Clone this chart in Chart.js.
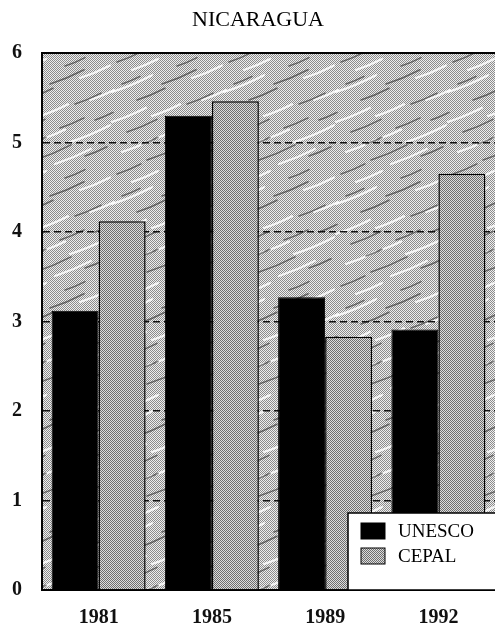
<!DOCTYPE html>
<html>
<head>
<meta charset="utf-8">
<script src="https://cdn.jsdelivr.net/npm/chart.js@4/dist/chart.umd.min.js"></script>
<style>
  html, body { margin: 0; padding: 0; background: #fff; }
  #wrap { width: 495px; height: 633px; }
</style>
</head>
<body>
<div id="wrap"><canvas id="grafico" width="495" height="633"></canvas></div>
<script>
// Datos
const titulo = "NICARAGUA";
const anios = ["1981", "1985", "1989", "1992"];
const unesco = [3.12, 5.30, 3.27, 2.91];
const cepal = [4.12, 5.46, 2.83, 4.65];
const ticksY = [0, 1, 2, 3, 4, 5, 6];

const fuente = "'Liberation Serif', 'DejaVu Serif', serif";

// Trama fina gris para las barras CEPAL
function tramaBarra() {
  const c = document.createElement("canvas");
  c.width = 2; c.height = 2;
  const g = c.getContext("2d");
  g.fillStyle = "#dcdcdc"; g.fillRect(0, 0, 2, 2);
  g.fillStyle = "#6e6e6e"; g.fillRect(0, 0, 1, 1); g.fillRect(1, 1, 1, 1);
  return g.createPattern(c, "repeat");
}

// Fondo gris con vetas diagonales (trazos fijos, se repite en mosaico)
const vetasClaras = [[0, 10, 34], [40, 4, 28], [70, 30, 40], [10, 40, 30], [55, 52, 36], [20, 70, 26], [80, 78, 30], [0, 92, 40], [45, 26, 20], [90, 100, 24]];
const vetasOscuras = [[15, 20, 30], [60, 16, 24], [35, 48, 36], [85, 44, 22], [5, 62, 24], [50, 84, 34], [25, 100, 28], [75, 104, 26], [95, 8, 18], [30, 32, 16], [65, 66, 20], [10, 84, 18]];

function tramaFondo() {
  const c = document.createElement("canvas");
  c.width = 112; c.height = 112;
  const g = c.getContext("2d");
  g.fillStyle = "#eeeeee"; g.fillRect(0, 0, 112, 112);
  g.fillStyle = "#8c8c8c";
  for (let y = 0; y < 112; y++) {
    for (let x = (y % 2); x < 112; x += 2) g.fillRect(x, y, 1, 1);
  }
  const trazo = (lista, color, ancho) => {
    g.strokeStyle = color;
    g.lineWidth = ancho;
    g.lineCap = "round";
    lista.forEach(([x, y, l]) => {
      for (const dx of [-112, 0, 112]) {
        for (const dy of [-112, 0, 112]) {
          g.beginPath();
          g.moveTo(x + dx, y + dy);
          g.quadraticCurveTo(x + dx + l / 2, y + dy - l * 0.16, x + dx + l, y + dy - l * 0.42);
          g.stroke();
        }
      }
    });
  };
  trazo(vetasClaras, "rgba(255,255,255,0.85)", 2.2);
  trazo(vetasOscuras, "rgba(30,30,30,0.55)", 1.5);
  return g.createPattern(c, "repeat");
}

const patronCepal = tramaBarra();
const patronFondo = tramaFondo();

const pluginMarco = {
  id: "marco",
  beforeDraw(chart) {
    const { ctx, chartArea: a } = chart;
    ctx.save();
    ctx.fillStyle = patronFondo;
    ctx.fillRect(a.left, a.top, a.right - a.left, a.bottom - a.top);
    // título
    ctx.fillStyle = "#000";
    ctx.font = "22px " + fuente;
    ctx.textAlign = "center";
    ctx.textBaseline = "middle";
    ctx.fillText(titulo, a.left + 216, 20);
    ctx.restore();
  },
  afterDraw(chart) {
    const { ctx, chartArea: a } = chart;
    ctx.save();
    // borde superior
    ctx.strokeStyle = "#000";
    ctx.lineWidth = 2;
    ctx.beginPath();
    ctx.moveTo(a.left, a.top);
    ctx.lineTo(a.right, a.top);
    ctx.stroke();

    // leyenda dentro del área
    const x0 = a.left + 306, y0 = a.bottom - 77;
    ctx.fillStyle = "#fff";
    ctx.fillRect(x0, y0, a.right - x0 + 2, a.bottom - y0);
    ctx.lineWidth = 1.5;
    ctx.strokeRect(x0, y0, a.right - x0 + 4, a.bottom - y0);
    const sets = chart.data.datasets;
    sets.forEach((ds, i) => {
      const cy = y0 + 18 + i * 25;
      ctx.fillStyle = ds.backgroundColor;
      ctx.fillRect(x0 + 13, cy - 8, 24, 16);
      ctx.strokeStyle = "#000";
      ctx.lineWidth = 1;
      ctx.strokeRect(x0 + 13, cy - 8, 24, 16);
      ctx.fillStyle = "#000";
      ctx.font = "19px " + fuente;
      ctx.textAlign = "left";
      ctx.textBaseline = "middle";
      ctx.fillText(ds.label, x0 + 50, cy + 1);
    });
    ctx.restore();
  }
};

new Chart(document.getElementById("grafico"), {
  type: "bar",
  data: {
    labels: anios,
    datasets: [
      { label: "UNESCO", data: unesco, backgroundColor: "#000", borderColor: "#000", borderWidth: 1 },
      { label: "CEPAL", data: cepal, backgroundColor: patronCepal, borderColor: "#000", borderWidth: 1.5 }
    ]
  },
  options: {
    responsive: false,
    animation: false,
    layout: { padding: { top: 53, right: 0, left: 0, bottom: 0 } },
    datasets: { bar: { categoryPercentage: 0.83, barPercentage: 1 } },
    plugins: {
      legend: { display: false },
      title: { display: false },
      tooltip: { enabled: false }
    },
    scales: {
      x: {
        grid: { display: false },
        border: { display: true, color: "#000", width: 2 },
        ticks: { color: "#111", font: { family: fuente, size: 20, weight: "bold" }, padding: 8 },
        afterFit(scale) { scale.height = 43; }
      },
      y: {
        min: 0,
        max: 6,
        afterBuildTicks(scale) { scale.ticks = ticksY.map(v => ({ value: v })); },
        grid: {
          drawTicks: false,
          color: ctx => (ctx.tick && (ctx.tick.value === 0 || ctx.tick.value === 6)) ? "rgba(0,0,0,0)" : "#111",
          lineWidth: 1.4
        },
        border: { display: true, color: "#000", width: 2, dash: [7, 4] },
        ticks: { color: "#111", font: { family: fuente, size: 20, weight: "bold" }, padding: 20 },
        afterFit(scale) { scale.width = 42; }
      }
    }
  },
  plugins: [pluginMarco]
});
</script>
</body>
</html>
